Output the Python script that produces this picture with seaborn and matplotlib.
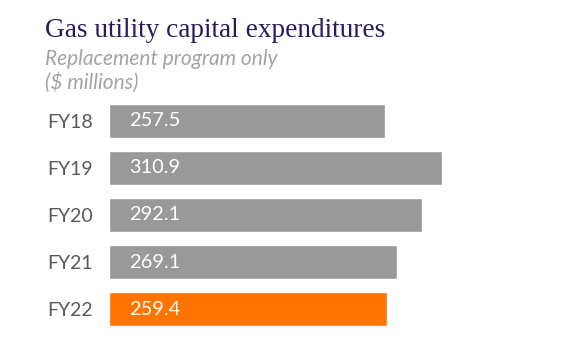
import matplotlib
matplotlib.use("Agg")
import matplotlib.pyplot as plt
import seaborn as sns
import pandas as pd

categories = ["FY18", "FY19", "FY20", "FY21", "FY22"]
values = [257.5, 310.9, 292.1, 269.1, 259.4]
value_labels = ["257.5", "310.9", "292.1", "269.1", "259.4"]
colors = ["#999999", "#999999", "#999999", "#999999", "#FF7300"]

sns.set_theme(style="white")
plt.rcParams["font.family"] = ["Lato", "DejaVu Sans"]

df = pd.DataFrame({"cat": categories, "val": values})

fig = plt.figure(figsize=(5.75, 3.4), dpi=100)
ax = fig.add_axes([109/575, 1 - 333/340, 466/575, 236/340])
sns.barplot(data=df, x="val", y="cat", hue="cat", palette=colors, legend=False,
            width=0.72, ax=ax, saturation=1)
ax.set_xlim(0, 435)
ax.set_ylim(4.5, -0.5)
ax.set_xlabel("")
ax.set_ylabel("")
ax.set_xticks([])
for s in ax.spines.values():
    s.set_visible(False)
ax.tick_params(axis="y", length=0, pad=11.5, labelsize=14, labelcolor="#595959")

for i, lab in enumerate(value_labels):
    ax.text(19, i, lab, color="white", fontsize=14.4, va="center", ha="left")

fig.text(45/575, 1 - 37/340, "Gas utility capital expenditures", family="Liberation Serif",
         fontsize=19.6, color="#2B1B5E", ha="left", va="baseline")
fig.text(45/575, 1 - 65/340, "Replacement program only", fontsize=15, style="italic",
         color="#A3A3A3", ha="left", va="baseline")
fig.text(45/575, 1 - 89/340, "($ millions)", fontsize=15, style="italic",
         color="#A3A3A3", ha="left", va="baseline")

fig.savefig("out.png", dpi=100)
